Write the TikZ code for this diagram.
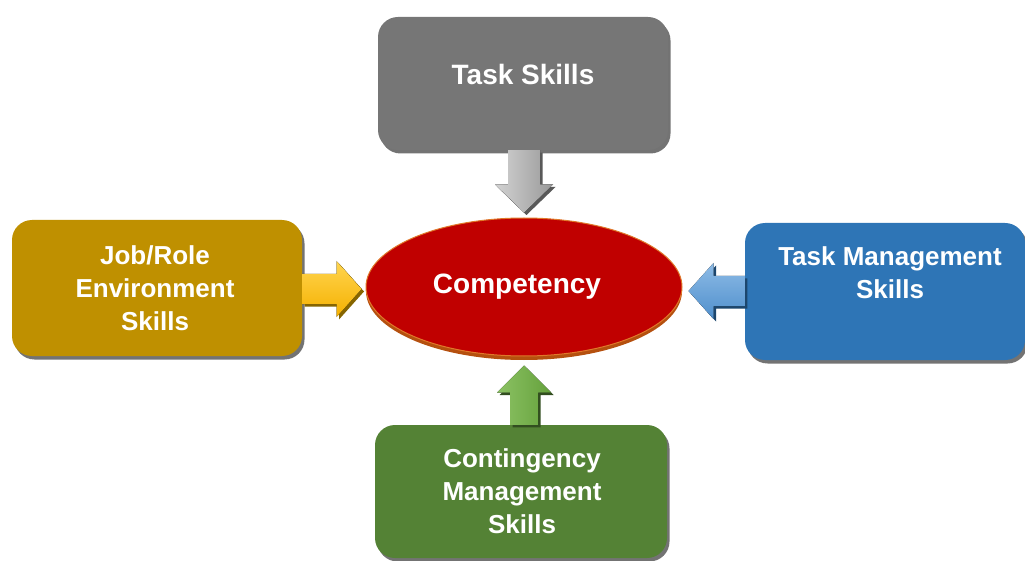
\documentclass[tikz,border=0pt]{standalone}
\usepackage{fontspec}
\setmainfont{Liberation Sans}
\usetikzlibrary{shadows,calc,shapes.geometric}

\definecolor{grayfill}{HTML}{767676}
\definecolor{goldfill}{HTML}{BF9000}
\definecolor{bluefill}{HTML}{2E75B6}
\definecolor{greenfill}{HTML}{548235}
\definecolor{redfill}{HTML}{C00000}
\definecolor{rimbrown}{HTML}{B5500F}
\definecolor{rimorange}{HTML}{E0782A}
\definecolor{goldlight}{HTML}{FFD54F}
\definecolor{golddark}{HTML}{F5B000}
\definecolor{bluelight}{HTML}{8DBBE6}
\definecolor{bluedark}{HTML}{4F8FCC}
\definecolor{greenlight}{HTML}{8CC264}
\definecolor{greendark}{HTML}{65A13C}

\begin{document}
\begin{tikzpicture}[x=1pt,y=-1pt,
  skillbox/.style={rounded corners=20pt, inner sep=0pt,
    drop shadow={shadow xshift=2.5pt, shadow yshift=-3.5pt, opacity=0.55, fill=black}},
  lbl/.style={text=white, align=center, font=\bfseries\fontsize{26}{33}\selectfont},
  biglbl/.style={text=white, align=center, font=\bfseries\fontsize{28}{34}\selectfont},
  oval/.style={ellipse, inner sep=0pt, minimum width=316pt, minimum height=138pt},
  arrowshadow/.style={preaction={fill=#1, transform canvas={shift={(2.5pt,-2.5pt)}}}}
]
\useasboundingbox (0,0) rectangle (1025,561);

% skill boxes
\node[skillbox, fill=grayfill, minimum width=290pt, minimum height=133pt] (task) at (523,83.5) {};
\node[skillbox, fill=goldfill, minimum width=290pt, minimum height=136pt] (job) at (157,288) {};
\node[skillbox, fill=bluefill, minimum width=280pt, minimum height=137pt] (tms) at (885,291.5) {};
\node[skillbox, fill=greenfill, minimum width=292pt, minimum height=133pt] (cont) at (521,491.5) {};

% central ellipse with its rim
\node[oval, fill=rimbrown] (rim) at (524,291) {};
\node[oval, fill=redfill, draw=rimorange, line width=1pt] (comp) at (524,287) {};

% labels
\node[biglbl] (taskT) at ([yshift=9pt]task.center) {Task Skills};
\node[lbl] (jobT) at ([xshift=-2pt]job.center) {Job/Role\\Environment\\Skills};
\node[lbl] (tmsT) at ([xshift=5pt,yshift=19pt]tms.center) {Task Management\\Skills};
\node[lbl] (contT) at ([xshift=1pt]cont.center) {Contingency\\Management\\Skills};
\node[biglbl] (compT) at ([xshift=-7pt]comp.center) {Competency};

% block arrows into the ellipse
\fill[arrowshadow=black!65, left color=gray!35, right color=gray!80]
  let \p1=(task.south), \p2=(comp.north) in
  (\x2-16pt,\y1) -- (\x2-16pt,\y2+33pt) -- (\x2-29pt,\y2+33pt) -- (\x2,\y2+5pt)
  -- (\x2+29pt,\y2+33pt) -- (\x2+16pt,\y2+33pt) -- (\x2+16pt,\y1) -- cycle;

\fill[arrowshadow=greenfill!60!black, left color=greenlight, right color=greendark]
  let \p1=(cont.north), \p2=(comp.south) in
  (\x2-14pt,\y1) -- (\x2-14pt,\y2-36pt) -- (\x2-27pt,\y2-36pt) -- (\x2,\y2-9pt)
  -- (\x2+27pt,\y2-36pt) -- (\x2+14pt,\y2-36pt) -- (\x2+14pt,\y1) -- cycle;

\fill[arrowshadow=goldfill!70!black, top color=goldlight, bottom color=golddark]
  let \p1=(job.east), \p2=(comp.west) in
  (\x1,\y2-17pt) -- (\x2-29pt,\y2-17pt) -- (\x2-29pt,\y2-30pt) -- (\x2-4pt,\y2-2pt)
  -- (\x2-29pt,\y2+26pt) -- (\x2-29pt,\y2+13pt) -- (\x1,\y2+13pt) -- cycle;

\fill[arrowshadow=bluefill!60!black, top color=bluelight, bottom color=bluedark]
  let \p1=(tms.west), \p2=(comp.east) in
  (\x1,\y2-19pt) -- (\x2+31pt,\y2-19pt) -- (\x2+31pt,\y2-32pt) -- (\x2+6pt,\y2-4pt)
  -- (\x2+31pt,\y2+24pt) -- (\x2+31pt,\y2+11pt) -- (\x1,\y2+11pt) -- cycle;
\end{tikzpicture}
\end{document}
